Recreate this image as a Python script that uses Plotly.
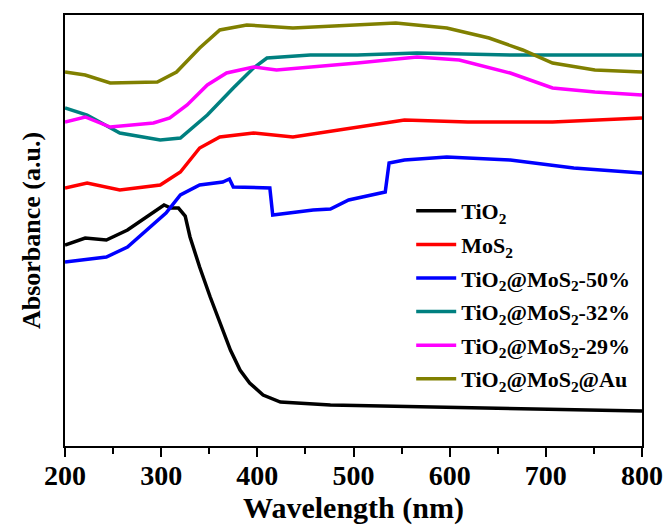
import plotly.graph_objects as go

# Wavelength (nm) / absorbance (a.u.) readings per series
tio2_x = [200, 221, 243, 265, 303, 310, 318, 325, 330, 340, 351, 361, 372, 382, 392, 406, 424, 476, 575, 663, 800]
tio2_y = [201, 208, 206, 216, 241, 238, 238, 230, 209, 179, 149, 123, 96, 76, 63, 51, 44, 41, 39, 37, 35]

mos2_x = [200, 223, 257, 299, 320, 340, 361, 396, 437, 504, 553, 619, 707, 800]
mos2_y = [258, 263, 256, 261, 274, 298, 309, 313, 309, 319, 326, 324, 324, 328]

m50_x = [200, 243, 265, 305, 320, 340, 364, 371, 375, 413, 416, 458, 476, 495, 533, 537, 553, 597, 663, 729, 800]
m50_y = [184, 189, 199, 233, 251, 261, 264, 267, 259, 258, 231, 236, 237, 246, 254, 283, 286, 289, 286, 278, 273]

m32_x = [200, 223, 257, 299, 320, 348, 375, 396, 410, 455, 504, 566, 663, 751, 800]
m32_y = [338, 331, 313, 306, 308, 331, 358, 378, 388, 391, 391, 393, 391, 391, 391]

m29_x = [200, 221, 247, 292, 309, 327, 348, 368, 396, 420, 504, 566, 610, 663, 707, 751, 800]
m29_y = [324, 329, 319, 323, 328, 341, 361, 373, 379, 376, 383, 389, 386, 373, 358, 354, 351]

au_x = [200, 221, 247, 296, 316, 340, 361, 389, 437, 504, 544, 597, 641, 676, 707, 751, 800]
au_y = [374, 371, 363, 364, 374, 398, 416, 421, 418, 421, 423, 418, 408, 396, 383, 376, 374]

tick_vals = [200, 300, 400, 500, 600, 700, 800]
tick_text = ["<b>%d</b>" % v for v in tick_vals]

names = ["<b>TiO<sub>2</sub></b>", "<b>MoS<sub>2</sub></b>",
         "<b>TiO<sub>2</sub>@MoS<sub>2</sub>-50%</b>",
         "<b>TiO<sub>2</sub>@MoS<sub>2</sub>-32%</b>",
         "<b>TiO<sub>2</sub>@MoS<sub>2</sub>-29%</b>",
         "<b>TiO<sub>2</sub>@MoS<sub>2</sub>@Au</b>"]
colors = ["#000000", "#ff0000", "#0000ff", "#008080", "#ff00ff", "#808000"]
series = [(tio2_x, tio2_y), (mos2_x, mos2_y), (m50_x, m50_y), (m32_x, m32_y), (m29_x, m29_y), (au_x, au_y)]

FONT = "Liberation Serif"
fig = go.Figure()
for i, ((xs, ys), n, c) in enumerate(zip(series, names, colors)):
    fig.add_trace(go.Scatter(x=xs, y=ys, mode="lines", name=n, legendgroup=f"g{i}",
                             line=dict(color=c, width=3.5)))

fig.update_layout(
    width=666, height=528,
    margin=dict(l=65, r=24, t=15, b=82),
    paper_bgcolor="white", plot_bgcolor="white",
    font=dict(family=FONT, color="black"),
    showlegend=True,
    legend=dict(x=0.6, y=0.594, xanchor="left", yanchor="top",
                font=dict(family=FONT, size=22, color="black"),
                bgcolor="rgba(0,0,0,0)", tracegroupgap=2, itemwidth=40),
    xaxis=dict(range=[200, 800], tickvals=tick_vals, ticktext=tick_text,
               ticks="outside", ticklen=9, tickwidth=2, tickcolor="black",
               ticklabelstandoff=-6,
               minor=dict(tickvals=[250, 350, 450, 550, 650, 750], ticks="outside", ticklen=6, tickwidth=2, tickcolor="black"),
               showline=True, linewidth=2, linecolor="black", mirror=True,
               showgrid=False, zeroline=False, automargin=False,
               tickfont=dict(family=FONT, size=28, color="black"),
               title=dict(text="<b>Wavelength (nm)</b>", font=dict(family=FONT, size=30, color="black"), standoff=2)),
    yaxis=dict(range=[0, 431], showticklabels=False, ticks="",
               showline=True, linewidth=2, linecolor="black", mirror=True,
               showgrid=False, zeroline=False, automargin=False,
               title=dict(text="<b>Absorbance (a.u.)</b>", font=dict(family=FONT, size=26, color="black"), standoff=15)),
)
fig.write_html("out.html")
